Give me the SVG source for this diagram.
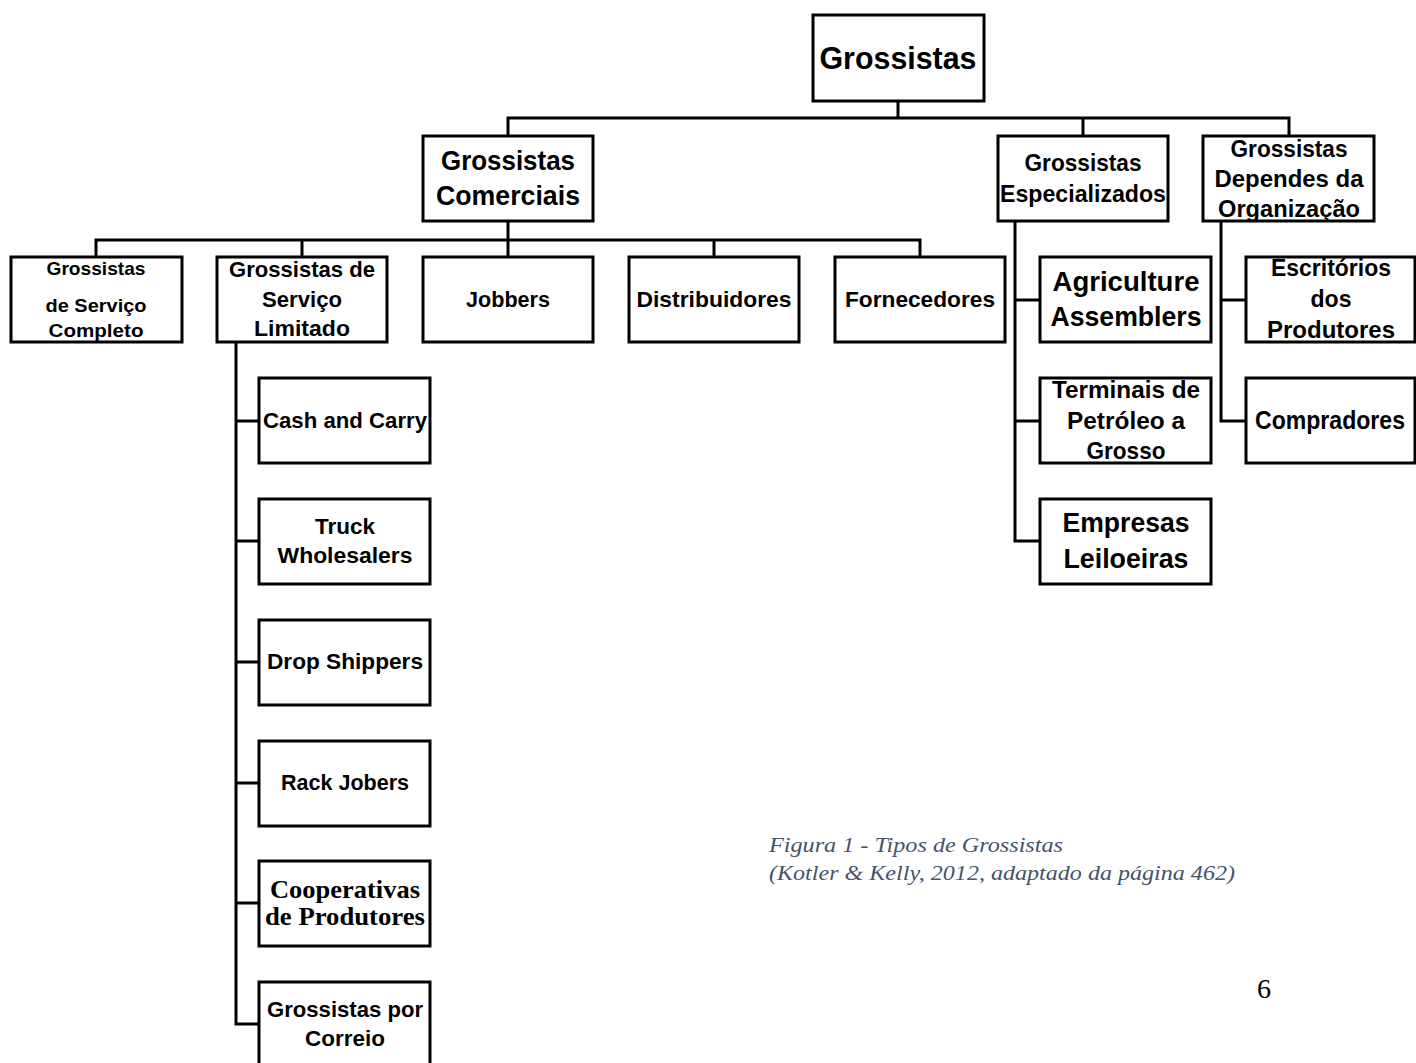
<svg xmlns="http://www.w3.org/2000/svg" width="1416" height="1063" viewBox="0 0 1416 1063">
<style>
.box{fill:#fff;stroke:#000;stroke-width:3}
.ln{fill:none;stroke:#000;stroke-width:3;stroke-linecap:square}
text{font-family:"Liberation Sans",Arial,sans-serif;font-weight:bold;fill:#000;text-anchor:middle}
.tm{font-family:"Liberation Serif","Times New Roman",serif}
.cap{font-family:"Liberation Serif","Times New Roman",serif;font-style:italic;font-weight:normal;fill:#44546A;text-anchor:start;font-size:21px}
.pg{font-family:"Liberation Serif","Times New Roman",serif;font-weight:normal;font-size:28px;text-anchor:start}
</style>
<rect width="1416" height="1063" fill="#fff"/>
<g id="connectors">
<path class="ln" d="M898 101V118M508 118H1289M508 118V136M1083 118V136M1289 118V136"/>
<path class="ln" d="M508 221V240M96 240H920M96 240V257M302 240V257M508 240V257M714 240V257M920 240V257"/>
<path class="ln" d="M236 342V1024H259M236 421H259M236 541H259M236 662H259M236 783H259M236 903H259"/>
<path class="ln" d="M1015 221V541H1040M1015 300H1040M1015 421H1040"/>
<path class="ln" d="M1221 221V421H1246M1221 300H1246"/>
</g>
<g id="n-grossistas"><rect class="box" x="813" y="15" width="171" height="86"/><text x="898" y="69" font-size="32" textLength="157" lengthAdjust="spacingAndGlyphs">Grossistas</text></g>
<g id="n-comerciais"><rect class="box" x="423" y="136" width="170" height="85"/><text x="508" y="170" font-size="27" textLength="134" lengthAdjust="spacingAndGlyphs">Grossistas</text><text x="508" y="205" font-size="27" textLength="144" lengthAdjust="spacingAndGlyphs">Comerciais</text></g>
<g id="n-especializados"><rect class="box" x="998" y="136" width="170" height="85"/><text x="1083" y="171" font-size="24" textLength="117" lengthAdjust="spacingAndGlyphs">Grossistas</text><text x="1083" y="202" font-size="24" textLength="166" lengthAdjust="spacingAndGlyphs">Especializados</text></g>
<g id="n-organizacao"><rect class="box" x="1203" y="136" width="171" height="85"/><text x="1289" y="157" font-size="23" textLength="117" lengthAdjust="spacingAndGlyphs">Grossistas</text><text x="1289" y="187" font-size="23" textLength="149" lengthAdjust="spacingAndGlyphs">Dependes da</text><text x="1289" y="217" font-size="23" textLength="142" lengthAdjust="spacingAndGlyphs">Organização</text></g>
<g id="n-completo"><rect class="box" x="11" y="257" width="171" height="85"/><text x="96" y="275" font-size="19" textLength="99" lengthAdjust="spacingAndGlyphs">Grossistas</text><text x="96" y="312" font-size="19" textLength="101" lengthAdjust="spacingAndGlyphs">de Serviço</text><text x="96" y="337" font-size="19" textLength="95" lengthAdjust="spacingAndGlyphs">Completo</text></g>
<g id="n-limitado"><rect class="box" x="217" y="257" width="170" height="85"/><text x="302" y="277" font-size="22" textLength="146" lengthAdjust="spacingAndGlyphs">Grossistas de</text><text x="302" y="307" font-size="22" textLength="80" lengthAdjust="spacingAndGlyphs">Serviço</text><text x="302" y="336" font-size="22" textLength="96" lengthAdjust="spacingAndGlyphs">Limitado</text></g>
<g id="n-jobbers"><rect class="box" x="423" y="257" width="170" height="85"/><text x="508" y="307" font-size="22" textLength="84" lengthAdjust="spacingAndGlyphs">Jobbers</text></g>
<g id="n-distribuidores"><rect class="box" x="629" y="257" width="170" height="85"/><text x="714" y="307" font-size="22" textLength="155" lengthAdjust="spacingAndGlyphs">Distribuidores</text></g>
<g id="n-fornecedores"><rect class="box" x="835" y="257" width="170" height="85"/><text x="920" y="307" font-size="22" textLength="150" lengthAdjust="spacingAndGlyphs">Fornecedores</text></g>
<g id="n-cash"><rect class="box" x="259" y="378" width="171" height="85"/><text x="345" y="428" font-size="22" textLength="164" lengthAdjust="spacingAndGlyphs">Cash and Carry</text></g>
<g id="n-truck"><rect class="box" x="259" y="499" width="171" height="85"/><text x="345" y="534" font-size="22" textLength="60" lengthAdjust="spacingAndGlyphs">Truck</text><text x="345" y="563" font-size="22" textLength="135" lengthAdjust="spacingAndGlyphs">Wholesalers</text></g>
<g id="n-drop"><rect class="box" x="259" y="620" width="171" height="85"/><text x="345" y="669" font-size="22" textLength="156" lengthAdjust="spacingAndGlyphs">Drop Shippers</text></g>
<g id="n-rack"><rect class="box" x="259" y="741" width="171" height="85"/><text x="345" y="790" font-size="22" textLength="128" lengthAdjust="spacingAndGlyphs">Rack Jobers</text></g>
<g id="n-cooperativas"><rect class="box" x="259" y="861" width="171" height="85"/><text class="tm" x="345" y="898" font-size="25" textLength="150" lengthAdjust="spacingAndGlyphs">Cooperativas</text><text class="tm" x="345" y="925" font-size="25" textLength="160" lengthAdjust="spacingAndGlyphs">de Produtores</text></g>
<g id="n-correio"><rect class="box" x="259" y="982" width="171" height="86"/><text x="345" y="1017" font-size="22" textLength="156" lengthAdjust="spacingAndGlyphs">Grossistas por</text><text x="345" y="1046" font-size="22" textLength="80" lengthAdjust="spacingAndGlyphs">Correio</text></g>
<g id="n-agriculture"><rect class="box" x="1040" y="257" width="171" height="85"/><text x="1126" y="291" font-size="27" textLength="147" lengthAdjust="spacingAndGlyphs">Agriculture</text><text x="1126" y="326" font-size="27" textLength="151" lengthAdjust="spacingAndGlyphs">Assemblers</text></g>
<g id="n-terminais"><rect class="box" x="1040" y="378" width="171" height="85"/><text x="1126" y="398" font-size="24" textLength="148" lengthAdjust="spacingAndGlyphs">Terminais de</text><text x="1126" y="429" font-size="24" textLength="118" lengthAdjust="spacingAndGlyphs">Petróleo a</text><text x="1126" y="459" font-size="24" textLength="79" lengthAdjust="spacingAndGlyphs">Grosso</text></g>
<g id="n-empresas"><rect class="box" x="1040" y="499" width="171" height="85"/><text x="1126" y="532" font-size="27" textLength="127" lengthAdjust="spacingAndGlyphs">Empresas</text><text x="1126" y="568" font-size="27" textLength="125" lengthAdjust="spacingAndGlyphs">Leiloeiras</text></g>
<g id="n-escritorios"><rect class="box" x="1246" y="257" width="169" height="85"/><text x="1331" y="276" font-size="24" textLength="120" lengthAdjust="spacingAndGlyphs">Escritórios</text><text x="1331" y="307" font-size="24" textLength="41" lengthAdjust="spacingAndGlyphs">dos</text><text x="1331" y="338" font-size="24" textLength="128" lengthAdjust="spacingAndGlyphs">Produtores</text></g>
<g id="n-compradores"><rect class="box" x="1246" y="378" width="169" height="85"/><text x="1330" y="429" font-size="25" textLength="150" lengthAdjust="spacingAndGlyphs">Compradores</text></g>
<g id="caption">
<text class="cap" x="769" y="852" textLength="294" lengthAdjust="spacingAndGlyphs">Figura 1 - Tipos de Grossistas</text>
<text class="cap" x="769" y="880" textLength="466" lengthAdjust="spacingAndGlyphs">(Kotler &amp; Kelly, 2012, adaptado da página 462)</text>
<text class="pg" x="1257" y="998">6</text>
</g>
</svg>
